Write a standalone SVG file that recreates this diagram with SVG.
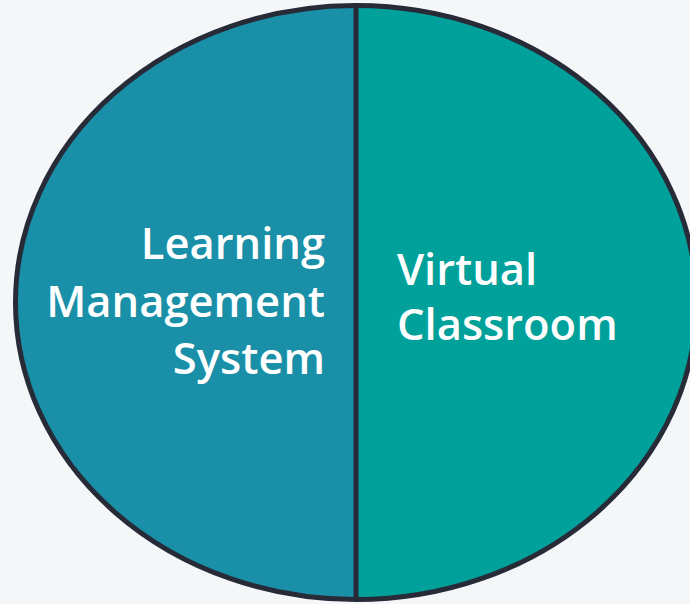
<svg xmlns="http://www.w3.org/2000/svg" width="690" height="604" viewBox="0 0 690 604">
<style>
.lbl{font-family:"Open Sans","Liberation Sans",sans-serif;font-weight:600;font-size:43.5px;fill:#ffffff}
.edge{fill:none;stroke:#272b38;stroke-width:5}
</style>
<defs>
<clipPath id="leftClip"><rect x="0" y="0" width="356" height="604"/></clipPath>
<clipPath id="rightClip"><rect x="356" y="0" width="334" height="604"/></clipPath>
</defs>
<rect width="690" height="604" fill="#f5f6f8"/>
<g id="lms">
<ellipse cx="356" cy="302.5" rx="340.5" ry="297" fill="#1a8fa8" clip-path="url(#leftClip)"/>
<text class="lbl" text-anchor="end"><tspan x="325" y="259">Learning</tspan><tspan x="325" y="317">Management</tspan><tspan x="325" y="374">System</tspan></text>
</g>
<g id="vc">
<ellipse cx="356" cy="302.5" rx="340.5" ry="297" fill="#00a19a" clip-path="url(#rightClip)"/>
<text class="lbl"><tspan x="397" y="285">Virtual</tspan><tspan x="397" y="340">Classroom</tspan></text>
</g>
<g id="connectors">
<ellipse class="edge" cx="356" cy="302.5" rx="340.5" ry="297"/>
<line class="edge" x1="356" y1="5" x2="356" y2="600" stroke-width="6"/>
</g>
</svg>
